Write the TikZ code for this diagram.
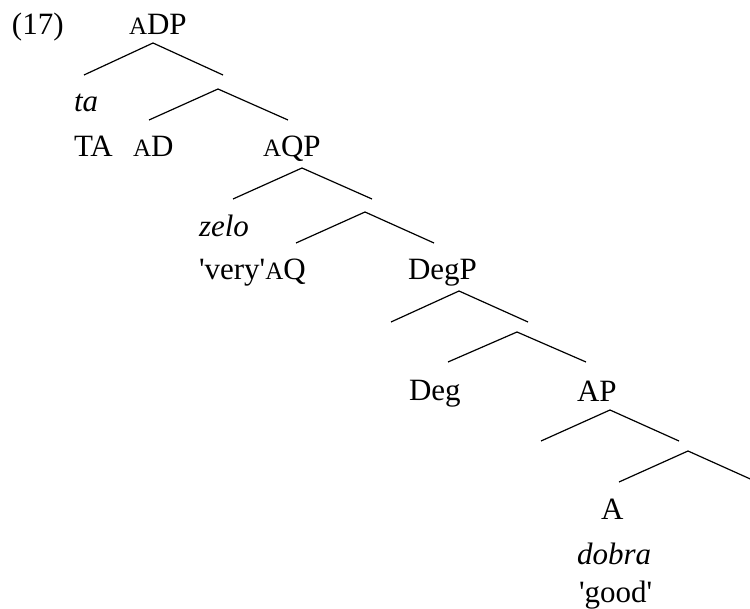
\documentclass[tikz,border=0pt]{standalone}
\usepackage{fontspec}
\setmainfont{Liberation Serif}
\newcommand{\smA}{{\fontsize{25}{30}\selectfont A}}
\newcommand{\sq}{\textquotesingle}
\tikzset{
  lbl/.style={anchor=base west, inner sep=0pt, outer sep=0pt, font=\fontsize{31}{36}\selectfont},
  branch/.style={line width=1.2pt, line cap=butt, line join=miter},
}
\begin{document}
\begin{tikzpicture}[x=1pt,y=-1pt]
\useasboundingbox (0,0) rectangle (750,609);
\clip (0,0) rectangle (750,609);
% labels
\node[lbl] (ex) at (12,35) {(17)};
\node[lbl] (adp) at (129,35) {\smA DP};
\node[lbl] (ta) at (74,112) {\itshape ta};
\node[lbl] (TA) at (74,157) {TA};
\node[lbl] (ad) at (133,157) {\smA D};
\node[lbl] (aqp) at (263,157) {\smA QP};
\node[lbl] (zelo) at (199,237) {\itshape zelo};
\node[lbl] (very) at (199,280) {\sq very\sq\smA Q};
\node[lbl] (degp) at (408,280) {DegP};
\node[lbl] (deg) at (409,401) {Deg};
\node[lbl] (ap) at (577,402) {AP};
\node[lbl] (a) at (601,519) {A};
\node[lbl] (dobra) at (577,564) {\itshape dobra};
\node[lbl] (good) at (579,602) {\sq good\sq};
% branch coordinates
\coordinate (t1) at (153,43);  \coordinate (l1) at (84,75);   \coordinate (r1) at (223,75);
\coordinate (t2) at (218,89);  \coordinate (l2) at (149,120); \coordinate (r2) at (288,120);
\coordinate (t3) at (302,168); \coordinate (l3) at (233,199); \coordinate (r3) at (372,199);
\coordinate (t4) at (365,212); \coordinate (l4) at (296,243); \coordinate (r4) at (434,243);
\coordinate (t5) at (459,291); \coordinate (l5) at (391,322); \coordinate (r5) at (528,322);
\coordinate (t6) at (517,332); \coordinate (l6) at (448,362); \coordinate (r6) at (586,362);
\coordinate (t7) at (610,410); \coordinate (l7) at (541,441); \coordinate (r7) at (679,441);
\coordinate (t8) at (688,451); \coordinate (l8) at (619,482); \coordinate (r8) at (757,482);
\foreach \i in {1,...,8} {
  \draw[branch] (l\i) -- (t\i) -- (r\i);
}
\end{tikzpicture}
\end{document}
